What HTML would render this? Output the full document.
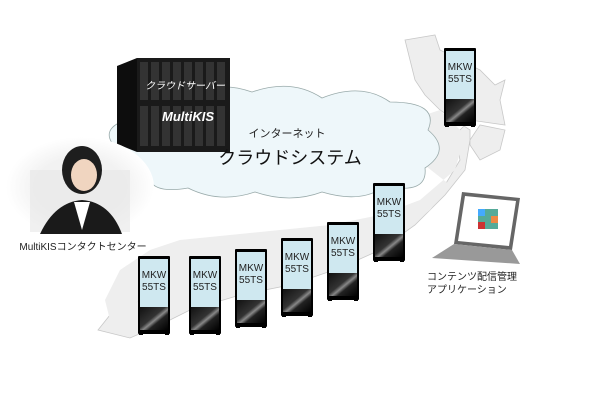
<!DOCTYPE html>
<html><head><meta charset="utf-8"><style>
body{margin:0;background:#fff;width:600px;height:400px;overflow:hidden;font-family:"Liberation Sans","Noto Sans CJK JP",sans-serif}
</style></head><body>
<svg width="600" height="400" viewBox="0 0 600 400" xmlns="http://www.w3.org/2000/svg">
<defs>
<linearGradient id="kb" x1="0" y1="0" x2="1" y2="1">
<stop offset="0" stop-color="#111"/><stop offset="0.45" stop-color="#333"/><stop offset="0.55" stop-color="#888"/><stop offset="0.65" stop-color="#222"/><stop offset="1" stop-color="#000"/></linearGradient>
<radialGradient id="fade" cx="0.5" cy="0.5" r="0.5">
<stop offset="0.6" stop-color="#f2f2f2"/><stop offset="1" stop-color="#fff"/></radialGradient>
<g id="kiosk">
<rect x="0" y="0" width="32" height="78" fill="#000" rx="1"/>
<rect x="2" y="3" width="28" height="48" fill="#cfe8f0"/>
<rect x="2" y="51" width="28" height="23" fill="url(#kb)"/>
<rect x="1" y="76" width="4" height="3" fill="#000"/><rect x="27" y="76" width="4" height="3" fill="#000"/>
<text x="16" y="22" font-size="10" text-anchor="middle" fill="#222">MKW</text>
<text x="16" y="34" font-size="10" text-anchor="middle" fill="#222">55TS</text>
</g>
</defs>
<!-- Japan map -->
<path d="M405 40 L435 35 L440 50 L480 70 L495 85 L505 80 L500 100 L505 125 L470 120 L455 135 L460 160 L445 185 L420 205 L405 220 L370 238 L335 245 L300 250 L265 258 L230 265 L195 270 L165 290 L140 300 L110 315 L98 330 L130 338 L160 325 L190 310 L240 295 L290 285 L340 268 L380 250 L415 225 L445 195 L465 170 L470 140 L480 125 L505 130 L500 150 L480 160 L470 145 L470 130 L440 110 L425 95 L415 80 L410 60 Z" fill="#eeeeee" stroke="#c8c8c8" stroke-width="0.8"/>
<path d="M380 130 L440 110 L465 135 L455 170 L420 200 L380 215 L330 225 L280 230 L230 235 L180 240 L150 250 L120 270 L105 300 L110 320 L140 300 L180 285 L240 275 L300 265 L360 250 L400 235 L430 210 L450 185 Z" fill="#eeeeee"/>
<!-- cloud -->
<path d="M118 150 Q95 128 132 118 Q140 92 188 102 Q212 78 252 92 Q292 78 322 98 Q362 82 390 102 Q440 102 428 130 Q452 150 425 168 Q428 195 385 186 Q362 204 322 192 Q290 204 255 192 Q220 204 188 188 Q148 195 148 172 Q105 172 118 150 Z" fill="#eef7fa" stroke="#9aa" stroke-width="0.8"/>
<!-- server -->
<path d="M117 66 L137 58 L230 58 L230 152 L137 152 L117 144 Z" fill="#0d0d0d"/>
<rect x="137" y="58" width="93" height="94" fill="#1a1a1a"/>
<g fill="#333">
<rect x="140" y="62" width="8" height="38"/><rect x="151" y="62" width="8" height="38"/><rect x="162" y="62" width="8" height="38"/><rect x="173" y="62" width="8" height="38"/><rect x="184" y="62" width="8" height="38"/><rect x="195" y="62" width="8" height="38"/><rect x="206" y="62" width="8" height="38"/><rect x="217" y="62" width="8" height="38"/>
<rect x="140" y="106" width="8" height="40"/><rect x="151" y="106" width="8" height="40"/><rect x="162" y="106" width="8" height="40"/><rect x="173" y="106" width="8" height="40"/><rect x="184" y="106" width="8" height="40"/><rect x="195" y="106" width="8" height="40"/><rect x="206" y="106" width="8" height="40"/><rect x="217" y="106" width="8" height="40"/>
</g>
<text x="185" y="89" font-size="10" fill="#fff" text-anchor="middle" font-style="italic">クラウドサーバー</text>
<text x="188" y="121" font-size="13" fill="#fff" text-anchor="middle" font-style="italic" font-weight="bold">MultiKIS</text>
<text x="287" y="137" font-size="11" fill="#222" text-anchor="middle">インターネット</text>
<text x="290" y="164" font-size="18" fill="#111" text-anchor="middle">クラウドシステム</text>
<!-- woman -->
<ellipse cx="80" cy="187" rx="74" ry="50" fill="url(#fade)"/>
<rect x="30" y="170" width="100" height="62" fill="#e6e6e6" opacity="0.6"/>
<ellipse cx="82" cy="170" rx="20" ry="24" fill="#1e1e1e"/>
<ellipse cx="84" cy="175" rx="13" ry="16" fill="#f0d5c0"/>
<path d="M40 234 Q55 202 82 200 Q110 202 122 234 Z" fill="#1a1a1a"/>
<path d="M74 202 L82 230 L90 202 Z" fill="#fff"/>
<text x="83" y="250" font-size="10" fill="#222" text-anchor="middle">MultiKISコンタクトセンター</text>
<!-- kiosks -->
<use href="#kiosk" x="138" y="256"/>
<use href="#kiosk" x="189" y="256"/>
<use href="#kiosk" x="235" y="249"/>
<use href="#kiosk" x="281" y="238"/>
<use href="#kiosk" x="327" y="222"/>
<use href="#kiosk" x="373" y="183"/>
<use href="#kiosk" x="444" y="48"/>
<!-- laptop -->
<path d="M462 192 L520 198 L512 250 L454 244 Z" fill="#666"/>
<path d="M465 196 L516 201 L509 246 L458 241 Z" fill="#fff"/>
<rect x="478" y="209" width="20" height="20" fill="#5a9" />
<rect x="478" y="209" width="7" height="7" fill="#4af"/><rect x="491" y="216" width="7" height="7" fill="#e84"/><rect x="478" y="222" width="7" height="7" fill="#c33"/>
<path d="M454 244 L512 250 L520 264 L432 258 Z" fill="#999"/>
<text x="427" y="280" font-size="10" fill="#222">コンテンツ配信管理</text>
<text x="427" y="293" font-size="10" fill="#222">アプリケーション</text>
</svg>
</body></html>
